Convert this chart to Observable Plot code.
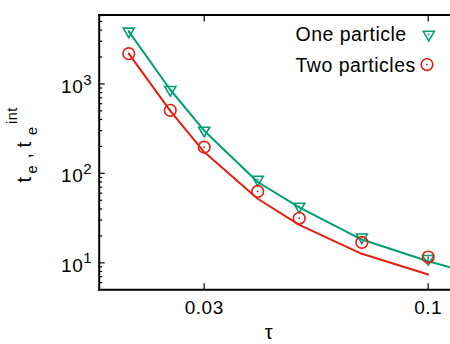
<!DOCTYPE html>
<html><head><meta charset="utf-8">
<script src="https://cdn.jsdelivr.net/npm/d3@7"></script>
<script src="https://cdn.jsdelivr.net/npm/@observablehq/plot@0.6"></script>
<style>html,body{margin:0;padding:0;overflow:hidden;background:#fff} svg text{letter-spacing:0.5px}</style>
</head><body><div id="chart"></div>
<script>
// Marker data
const tau = [0.02, 0.025, 0.03, 0.04, 0.05, 0.07, 0.1];
const oneParticle = [3870, 860, 302, 85.5, 42.7, 19.3, 11.1];
const twoParticles = [2180, 506, 196, 62.8, 31.5, 16.9, 11.6];
// Line data
const lineTau1 = [0.02, 0.025, 0.03, 0.04, 0.05, 0.07, 0.1, 0.12];
const line1 = [3870, 860, 300, 80, 41.6, 18.2, 10.4, 8.2];
const lineTau2 = [0.02, 0.025, 0.03, 0.04, 0.05, 0.07, 0.1];
const line2 = [2180, 500, 173, 52, 26.6, 12.6, 7.4];
// Ticks
const xTicks = [0.03, 0.1];
const xTickLabels = ["0.03", "0.1"];
const yMajor = [10, 100, 1000];
const yMinor = [6,7,8,9,20,30,40,50,60,70,80,90,200,300,400,500,600,700,800,900,2000,3000,4000,5000];
const legendLabels = ["One particle", "Two particles"];

const GREEN = "#009e73", RED = "#e51e10";
const FONT = "'Liberation Sans', Arial, Helvetica, sans-serif";

const pts1 = tau.map((t, i) => ({t, v: oneParticle[i]}));
const pts2 = tau.map((t, i) => ({t, v: twoParticles[i]}));
const ln1 = lineTau1.map((t, i) => ({t, v: line1[i]}));
const ln2 = lineTau2.map((t, i) => ({t, v: line2[i]}));

const chart = Plot.plot({
  width: 450, height: 344,
  marginLeft: 98.7, marginRight: 0, marginTop: 14.5, marginBottom: 54.7,
  style: {fontFamily: FONT, fontSize: "19px", color: "black", background: "white", overflow: "hidden"},
  x: {type: "log", domain: [0.03, 0.1], range: [203.7, 427.7]},
  y: {type: "log", domain: [10, 1000], range: [262.3, 83.4]},
  marks: [
    Plot.line(ln1, {x: "t", y: "v", stroke: GREEN, strokeWidth: 2, clip: "frame"}),
    Plot.line(ln2, {x: "t", y: "v", stroke: RED, strokeWidth: 2, clip: "frame"}),
    Plot.dot(pts1, {x: "t", y: "v", symbol: "triangle", rotate: 180, r: 4.1, stroke: GREEN, strokeWidth: 1.6, fill: "none"}),
    Plot.dot(pts1, {x: "t", y: "v", r: 0.9, fill: GREEN}),
    Plot.dot(pts2, {x: "t", y: "v", symbol: "circle", r: 5.8, stroke: RED, strokeWidth: 1.6, fill: "none"}),
    Plot.dot(pts2, {x: "t", y: "v", r: 0.9, fill: RED}),
    // y ticks (inward)
    Plot.axisY({ticks: yMajor, tickSize: -6, tickFormat: () => "", label: null, strokeWidth: 1.2}),
    Plot.axisY({ticks: yMinor, tickSize: -3.5, tickFormat: () => "", label: null, strokeWidth: 1.2}),
    Plot.axisY({ticks: yMajor, tickSize: 0, tickPadding: 16, tickFormat: () => "10", fontSize: 19, dy: 3, label: null}),
    Plot.axisY({ticks: yMajor, tickSize: 0, tickPadding: 16, textAnchor: "start", tickFormat: d => String(Math.round(Math.log10(d))), fontSize: 15, dy: -4.2, label: null}),
    // x ticks (inward, mirrored)
    Plot.axisX({ticks: xTicks, tickSize: -6, tickFormat: () => "", label: null, strokeWidth: 1.2}),
    Plot.axisX({anchor: "top", ticks: xTicks, tickSize: -6, tickFormat: () => "", label: null, strokeWidth: 1.2}),
    Plot.axisX({ticks: xTicks, tickSize: 0, tickPadding: 10.5, tickFormat: d => xTickLabels[xTicks.indexOf(d)], fontSize: 19, label: null}),
    // border: left, top, bottom (right edge lies outside the picture)
    Plot.frame({anchor: "left", stroke: "black", strokeWidth: 2}),
    Plot.frame({anchor: "top", stroke: "black", strokeWidth: 2}),
    Plot.frame({anchor: "bottom", stroke: "black", strokeWidth: 2}),
    // x label
    Plot.text(["τ"], {frameAnchor: "bottom", dx: -6, dy: 42.5, lineAnchor: "middle", fontSize: 20, fill: "black"}),
    // legend
    Plot.text([legendLabels[0]], {frameAnchor: "top-left", dx: 196.3, dy: 20.1, textAnchor: "start", lineAnchor: "middle", fontSize: 19.5, fill: "black"}),
    Plot.text([legendLabels[1]], {frameAnchor: "top-left", dx: 196.3, dy: 50.3, textAnchor: "start", lineAnchor: "middle", fontSize: 19.5, fill: "black"}),
    Plot.dot([0], {frameAnchor: "top-left", dx: 329.6, dy: 19.5, symbol: "triangle", rotate: 180, r: 4.1, stroke: GREEN, strokeWidth: 1.6, fill: "none"}),
    Plot.dot([0], {frameAnchor: "top-left", dx: 329.6, dy: 19.5, r: 0.9, fill: GREEN}),
    Plot.dot([0], {frameAnchor: "top-left", dx: 327.8, dy: 49.6, symbol: "circle", r: 5.8, stroke: RED, strokeWidth: 1.6, fill: "none"}),
    Plot.dot([0], {frameAnchor: "top-left", dx: 327.8, dy: 49.6, r: 0.9, fill: RED})
  ]
});
document.getElementById("chart").appendChild(chart);

// y-axis label with sub/superscripts
const lab = d3.select(chart).append("text")
  .attr("transform", "translate(31,183) rotate(-90)")
  .attr("text-anchor", "start")
  .attr("font-family", FONT).attr("font-size", 20).attr("fill", "black");
lab.append("tspan").attr("x", 0.5).attr("y", 0).text("t");
lab.append("tspan").attr("x", 9.5).attr("y", 5.5).attr("font-size", 14.5).text("e");
lab.append("tspan").attr("x", 24.5).attr("y", 0).text(",");
lab.append("tspan").attr("x", 35.5).attr("y", 0).text("t");
lab.append("tspan").attr("x", 48).attr("y", 5.5).attr("font-size", 14.5).text("e");
lab.append("tspan").attr("x", 59).attr("y", -14).attr("font-size", 14.5).text("int");
</script></body></html>
